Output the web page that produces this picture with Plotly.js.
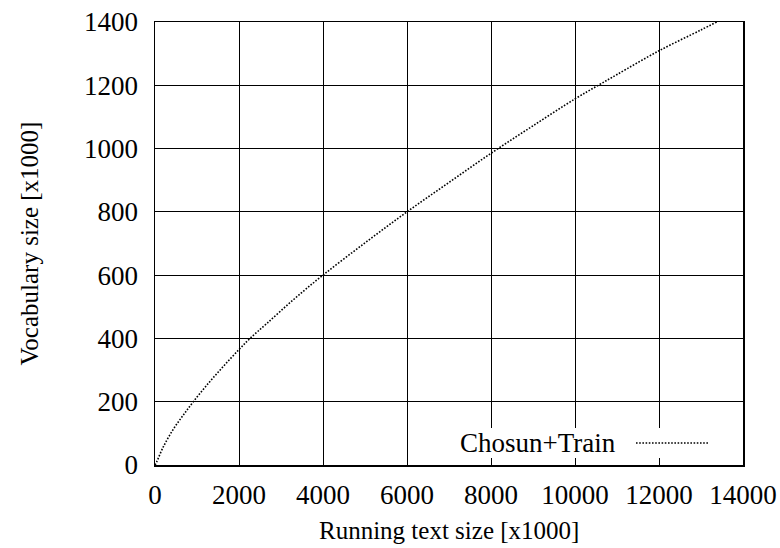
<!DOCTYPE html>
<html>
<head>
<meta charset="utf-8">
<script src="https://cdn.plot.ly/plotly-3.0.1.min.js"></script>
<style>html,body{margin:0;padding:0;background:#fff;}#chart{width:780px;height:548px;}</style>
</head>
<body>
<div id="chart"></div>
<script>
// Running text size [x1000]
const textSize = [0, 40, 200, 440, 675, 913, 1270, 1630, 2000, 2262, 2660, 3300, 4000, 5000, 6000, 7000, 8000, 9000, 10000, 10555, 11000, 12000, 13000, 13373];
// Vocabulary size [x1000]
const vocabSize = [0, 10, 58, 114, 158, 200, 258, 312, 365, 400, 447, 523, 600, 702, 800, 893, 985, 1072, 1157, 1200, 1234, 1309, 1375, 1400];
const seriesName = "Chosun+Train";
const xTitle = "Running text size [x1000]";
const yTitle = "Vocabulary size [x1000]";
const xTicks = [0, 2000, 4000, 6000, 8000, 10000, 12000, 14000];
const yTicks = [0, 200, 400, 600, 800, 1000, 1200, 1400];

const fam = "Liberation Serif, Times New Roman, serif";
const tickFont = {family: fam, size: 27, color: "#000"};
const titleFont = {family: fam, size: 25, color: "#000"};

const trace = {
  x: textSize, y: vocabSize, type: "scatter", mode: "lines", name: seriesName,
  line: {color: "#000", width: 1.6, dash: "1.6px,1.6px", shape: "spline", smoothing: 1},
  showlegend: false, hoverinfo: "skip"
};

const layout = {
  width: 780, height: 548,
  margin: {l: 155, r: 37, t: 22, b: 83},
  paper_bgcolor: "#fff", plot_bgcolor: "#fff",
  font: tickFont,
  showlegend: false,
  xaxis: {
    range: [0, 14000], tickvals: xTicks, ticktext: xTicks.map(String),
    showgrid: true, gridcolor: "#000", gridwidth: 1,
    showline: true, linecolor: "#000", linewidth: 1.5, mirror: true,
    zeroline: false, ticks: "", tickfont: tickFont, ticklabelstandoff: 5,
    automargin: false
  },
  yaxis: {
    range: [0, 1400], tickvals: yTicks, ticktext: yTicks.map(String),
    showgrid: true, gridcolor: "#000", gridwidth: 1,
    showline: true, linecolor: "#000", linewidth: 1.5, mirror: true,
    zeroline: false, ticks: "", tickfont: tickFont, ticklabelstandoff: 10,
    automargin: false
  },
  shapes: [
    {type: "rect", xref: "paper", yref: "paper", x0: 0.502, x1: 0.997, y0: 0.0158, y1: 0.0835,
     fillcolor: "#fff", line: {width: 0}, layer: "above"},
    {type: "line", xref: "paper", yref: "paper", x0: 0.818, x1: 0.9405, y0: 0.0497, y1: 0.0497,
     line: {color: "#000", width: 1.6, dash: "1.6px,1.6px"}, layer: "above"}
  ],
  annotations: [
    {text: seriesName, xref: "paper", yref: "paper", x: 0.787, y: 0.0497,
     xanchor: "right", yanchor: "middle", showarrow: false, font: {family: fam, size: 27, color: "#000"}},
    {text: xTitle, xref: "paper", yref: "paper", x: 0.5, y: -0.148,
     xanchor: "center", yanchor: "middle", showarrow: false, font: titleFont},
    {text: yTitle, xref: "paper", yref: "paper", x: -0.2126, y: 0.5, textangle: -90,
     xanchor: "center", yanchor: "middle", showarrow: false, font: titleFont}
  ]
};

Plotly.newPlot("chart", [trace], layout, {displayModeBar: false, staticPlot: true});
</script>
</body>
</html>
